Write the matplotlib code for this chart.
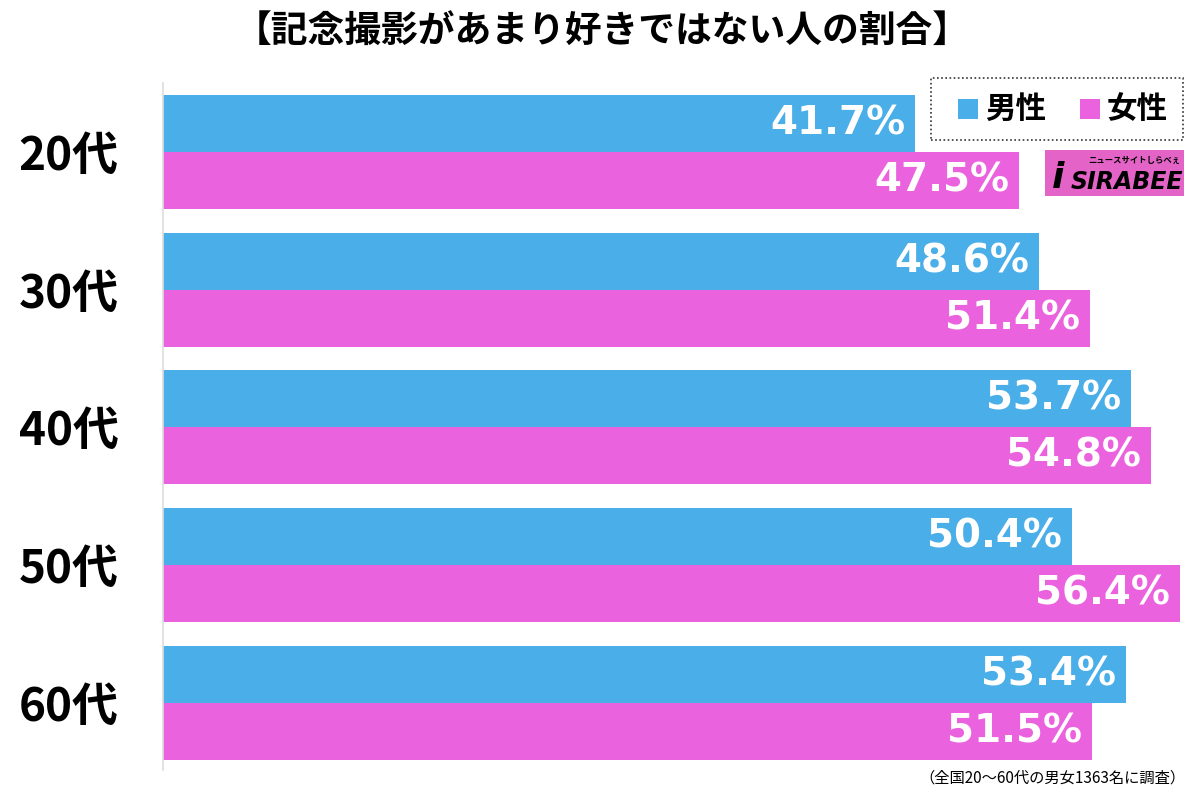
import matplotlib
matplotlib.use("Agg")
import matplotlib.pyplot as plt
from matplotlib.patches import Rectangle

plt.rcParams['font.family'] = ['Noto Sans CJK JP', 'DejaVu Sans']

ages = ["20代", "30代", "40代", "50代", "60代"]
male = [41.7, 48.6, 53.7, 50.4, 53.4]
female = [47.5, 51.4, 54.8, 56.4, 51.5]
series_names = ["男性", "女性"]
title = "【記念撮影があまり好きではない人の割合】"
note = "（全国20～60代の男女1363名に調査）"

blue = "#4aaee8"
pink = "#eb62de"

fig = plt.figure(figsize=(12, 7.95), dpi=100)
ax = fig.add_axes([163 / 1200, 1 - 770 / 795, (1190 - 163) / 1200, (770 - 83) / 795])

h = 0.414
pos = list(range(len(ages)))
ax.barh([p - h / 2 for p in pos], male, height=h, color=blue)
ax.barh([p + h / 2 for p in pos], female, height=h, color=pink)

for p, m, f in zip(pos, male, female):
    ax.text(m - 0.55, p - h / 2, f"{m:.1f}%", ha="right", va="center",
            color="white", fontsize=28, fontweight="bold", family="DejaVu Sans")
    ax.text(f - 0.55, p + h / 2, f"{f:.1f}%", ha="right", va="center",
            color="white", fontsize=28, fontweight="bold", family="DejaVu Sans")

ax.set_xlim(0, 56.96)
ax.set_ylim(4.49, -0.5)
ax.set_yticks(pos)
ax.set_yticklabels(ages, fontsize=33, fontweight="bold")
ax.tick_params(axis="y", length=0, pad=32)
ax.set_xticks([])
for s in ["top", "right", "bottom"]:
    ax.spines[s].set_visible(False)
ax.spines["left"].set_color("#dddddd")
ax.spines["left"].set_linewidth(1.2)

fig.text(0.502, 1 - 32 / 795, title, ha="center", va="center",
         fontsize=26.5, fontweight="bold")
fig.text(1186 / 1200, 1 - 778 / 795, note, ha="right", va="center", fontsize=11)

# legend box
fig.patches.append(Rectangle((931 / 1200, 1 - 140 / 795), 252 / 1200, 62 / 795,
                             transform=fig.transFigure, facecolor="white",
                             edgecolor="#333333", linestyle=(0, (1, 1.5)), linewidth=1.2))
for x0, c, name in [(958, blue, series_names[0]), (1080, pink, series_names[1])]:
    fig.patches.append(Rectangle((x0 / 1200, 1 - 119 / 795), 20 / 1200, 20 / 795,
                                 transform=fig.transFigure, facecolor=c, edgecolor="none"))
    fig.text((x0 + 27) / 1200, 1 - 109 / 795, name, ha="left", va="center",
             fontsize=22, fontweight="bold")

# logo
fig.patches.append(Rectangle((1045 / 1200, 1 - 196 / 795), 139 / 1200, 46 / 795,
                             transform=fig.transFigure, facecolor="#e463c6", edgecolor="none"))
fig.text(1183 / 1200, 1 - 182 / 795, "SIRABEE", ha="right", va="center",
         fontsize=17, fontweight="bold", style="italic", color="black", family="DejaVu Sans")
fig.text(1180 / 1200, 1 - 160 / 795, "ニュースサイトしらべぇ", ha="right", va="center",
         fontsize=6, fontweight="bold", color="black")
fig.text(1052 / 1200, 1 - 178 / 795, "i", ha="left", va="center",
         fontsize=26, fontweight="bold", style="italic", color="black", family="DejaVu Sans")

fig.savefig("out.png", dpi=100)
